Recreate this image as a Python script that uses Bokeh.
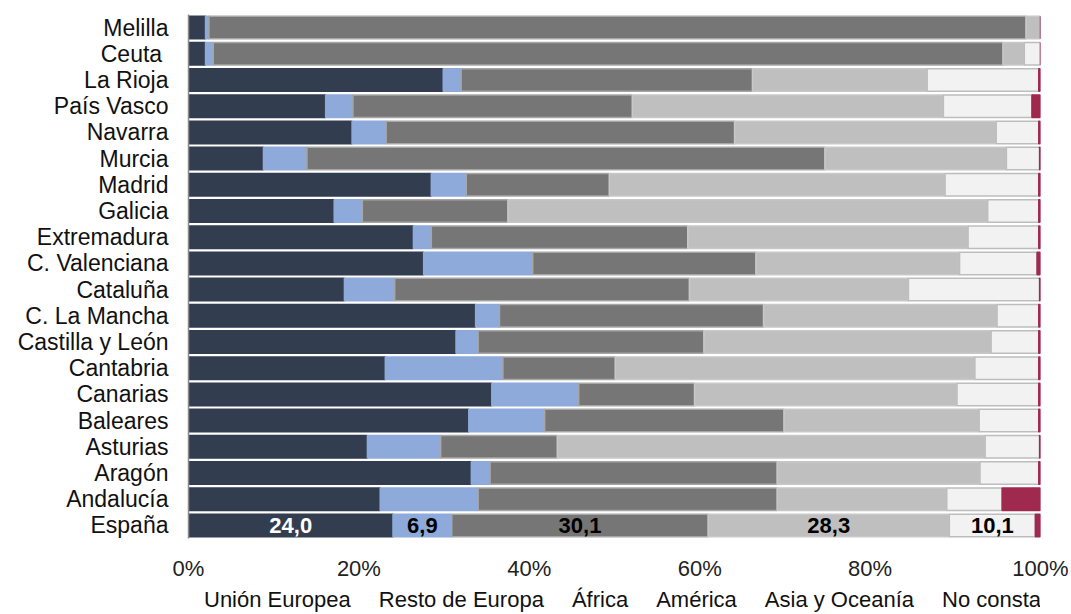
from bokeh.plotting import figure
from bokeh.layouts import column
from bokeh.models import (FactorRange, Range1d, FixedTicker, PrintfTickFormatter,
                          Legend, LegendItem, ColumnDataSource, CDSView, IndexFilter)
from bokeh.embed import file_html
from bokeh.resources import INLINE
from bokeh.core.properties import value

# Categories, top to bottom as in the reference
regions = ["Melilla", "Ceuta ", "La Rioja", "País Vasco", "Navarra", "Murcia", "Madrid",
           "Galicia", "Extremadura", "C. Valenciana", "Cataluña", "C. La Mancha",
           "Castilla y León", "Cantabria", "Canarias", "Baleares", "Asturias", "Aragón",
           "Andalucía", "España"]

union_europea   = [2.0, 2.0, 29.9, 16.1, 19.2, 8.8, 28.5, 17.1, 26.4, 27.6, 18.3, 33.7, 31.4, 23.1, 35.6, 32.9, 21.0, 33.2, 22.5, 24.0]
resto_europa    = [0.4, 0.9, 2.1, 3.2, 4.0, 5.1, 4.1, 3.3, 2.1, 12.8, 5.9, 2.8, 2.6, 13.8, 10.2, 8.9, 8.6, 2.2, 11.5, 6.9]
africa          = [95.9, 92.7, 34.2, 32.8, 40.9, 60.8, 16.8, 17.1, 30.1, 26.2, 34.6, 31.0, 26.5, 13.2, 13.6, 28.1, 13.7, 33.7, 35.1, 30.1]
america         = [1.7, 2.5, 20.5, 36.5, 30.7, 21.3, 39.4, 56.3, 32.9, 23.9, 25.7, 27.4, 33.7, 42.2, 30.8, 22.9, 50.2, 23.8, 19.9, 28.3]
asia_oceania    = [0.0, 1.9, 13.1, 10.4, 5.0, 3.9, 11.0, 6.0, 8.3, 9.1, 15.4, 4.9, 5.6, 7.5, 9.6, 7.0, 6.4, 6.9, 6.5, 10.1]
no_consta       = [0.0, 0.0, 0.2, 1.0, 0.2, 0.1, 0.2, 0.2, 0.2, 0.4, 0.1, 0.2, 0.2, 0.2, 0.2, 0.2, 0.1, 0.2, 4.5, 0.6]

series_names = ["Unión Europea", "Resto de Europa", "África", "América", "Asia y Oceanía", "No consta"]
series_keys = ["ue", "re", "af", "am", "as", "nc"]
fill_colors = ["#333d50", "#8eaadb", "#767676", "#bfbfbf", "#f2f2f2", "#a0294f"]
line_colors = ["#333d50", "#8eaadb", "#a6a6a6", "#c8c8c8", "#bdbdbd", "#a0294f"]

x_ticks = [0, 20, 40, 60, 80, 100]

FONT = "Liberation Sans"

source = ColumnDataSource(dict(region=regions, ue=union_europea, re=resto_europa, af=africa,
                               am=america, **{"as": asia_oceania}, nc=no_consta))

p = figure(width=1071, height=584, output_backend="svg", toolbar_location=None,
           y_range=FactorRange(*reversed(regions), range_padding=0),
           x_range=Range1d(0, 100),
           min_border_left=188, min_border_right=31, min_border_top=14, min_border_bottom=46)

renderers = p.hbar_stack(series_keys, y="region", height=0.86, source=source,
                         fill_color=fill_colors, line_color=line_colors, line_width=1.5)

# Data labels on España row
esp = regions.index("España")
esp_vals = [union_europea[esp], resto_europa[esp], africa[esp], america[esp], asia_oceania[esp]]
mids, acc = [], 0.0
for v in esp_vals:
    mids.append(acc + v / 2)
    acc += v
lbl = ColumnDataSource(dict(x=mids, y=["España"] * len(mids),
                            text=[f"{v:.1f}".replace(".", ",") for v in esp_vals],
                            color=["white", "black", "black", "black", "black"]))
p.text(x="x", y="y", text="text", text_color="color", source=lbl, text_align="center",
       text_baseline="middle", text_font=value(FONT), text_font_style="bold",
       text_font_size="22px")

p.xgrid.visible = False
p.ygrid.visible = False
p.outline_line_color = None

p.xaxis.ticker = FixedTicker(ticks=x_ticks)
p.xaxis.formatter = PrintfTickFormatter(format="%d%%")
p.xaxis.axis_line_color = None
p.xaxis.major_tick_line_color = None
p.xaxis.minor_tick_line_color = None
p.xaxis.major_label_text_font = FONT
p.xaxis.major_label_text_font_size = "22px"
p.xaxis.major_label_text_color = "#222222"
p.xaxis.major_label_standoff = 11

p.yaxis.axis_line_color = "#8c8c8c"
p.yaxis.axis_line_width = 1.5
p.yaxis.major_tick_line_color = None
p.yaxis.minor_tick_line_color = None
p.yaxis.major_label_text_font = FONT
p.yaxis.major_label_text_font_size = "23px"
p.yaxis.major_label_text_color = "#111111"
p.yaxis.major_label_standoff = 14

# Legend strip: a second figure whose bars are filtered out (only the legend shows)
lg = figure(width=1071, height=30, output_backend="svg", toolbar_location=None,
            x_range=Range1d(1000, 1100), y_range=FactorRange(*regions),
            x_axis_location=None, y_axis_location=None,
            min_border_left=0, min_border_right=0, min_border_top=0, min_border_bottom=0)
lg.grid.visible = False
lg.outline_line_color = None
lg_renderers = lg.hbar_stack(series_keys, y="region", height=0.86, source=source,
                             fill_color=fill_colors, line_color=line_colors, line_width=1.5,
                             view=[CDSView(filter=IndexFilter(indices=[])) for _ in series_keys])

legend = Legend(items=[LegendItem(label=n, renderers=[r]) for n, r in zip(series_names, lg_renderers)],
                orientation="horizontal", location=(0, 1),
                label_text_font=FONT, label_text_font_size="22px", label_text_color="#111111",
                glyph_width=13, glyph_height=13, label_standoff=3, spacing=12,
                padding=0, margin=0, border_line_color=None, background_fill_alpha=0)
lg.add_layout(legend, "center")

open("out.html", "w").write(file_html(column(p, lg, spacing=0), INLINE))
